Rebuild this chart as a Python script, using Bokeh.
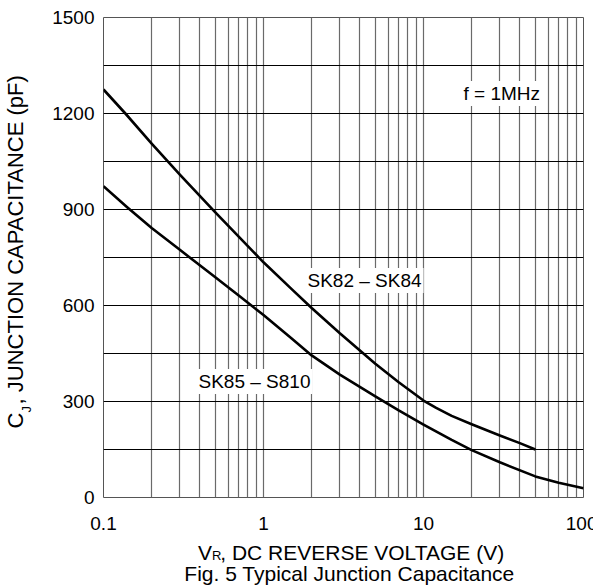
from bokeh.plotting import figure
from bokeh.models import Range1d, FixedTicker, Label, LinearAxis, LogAxis
from bokeh.embed import file_html
from bokeh.resources import INLINE

# ---- data ----
upper_v = [0.1, 0.137, 0.2, 0.3, 0.5, 0.7, 1, 1.5, 2, 3, 5, 7, 10, 12, 15, 20, 30, 40, 50]
upper_c = [1275, 1200, 1106, 1009, 891, 815, 735, 651, 592, 513, 418, 360, 303, 280, 255, 229, 194, 170, 150]

lower_v = [0.1, 0.14, 0.2, 0.3, 0.5, 0.7, 1, 1.5, 2, 3, 5, 7, 10, 15, 20, 30, 50, 70, 100]
lower_c = [973, 908, 842, 774, 688, 631, 570, 497, 444, 384, 316, 272, 228, 180, 148, 110, 66, 46, 29]

x_major = [0.1, 1, 10, 100]
x_labels = ["0.1", "1", "10", "100"]
y_major = [0, 300, 600, 900, 1200, 1500]
y_grid = [0, 150, 300, 450, 600, 750, 900, 1050, 1200, 1350, 1500]
x_grid = [m * d for d in (0.1, 1, 10) for m in range(1, 10)] + [100]

# axis titles / caption pieces (main text, subscript, rest)
x_title = ["V", "R", ", DC REVERSE VOLTAGE (V)"]
y_title = ["C", "J", ", JUNCTION CAPACITANCE (pF)"]
caption = "Fig. 5 Typical Junction Capacitance"

FONT = "Liberation Sans"

p = figure(frame_width=480, frame_height=480, x_axis_type="log",
           x_range=Range1d(0.1, 100), y_range=Range1d(0, 1500),
           output_backend="svg", toolbar_location=None,
           min_border_left=99, min_border_right=14,
           min_border_top=17, min_border_bottom=91)

p.background_fill_color = "white"
p.border_fill_color = "white"
p.outline_line_color = "#555555"
p.outline_line_width = 1

# grids
p.xgrid.ticker = FixedTicker(ticks=x_grid)
p.xgrid.grid_line_color = "#6a6a6a"
p.xgrid.grid_line_width = 1.2
p.ygrid.ticker = FixedTicker(ticks=y_grid)
p.ygrid.grid_line_color = "black"
p.ygrid.grid_line_width = 1.2


def style_axis(ax, size):
    ax.axis_line_color = None
    ax.major_tick_line_color = None
    ax.minor_tick_line_color = None
    ax.major_tick_out = 0
    ax.major_tick_in = 0
    ax.minor_tick_out = 0
    ax.minor_tick_in = 0
    ax.major_label_text_font = FONT
    ax.major_label_text_font_size = size
    ax.major_label_text_color = "black"


# main axes
p.xaxis.ticker = FixedTicker(ticks=x_major)
p.xaxis.major_label_overrides = {v: s for v, s in zip(x_major, x_labels)}
p.yaxis.ticker = FixedTicker(ticks=y_major)
style_axis(p.xaxis[0], "19px")
style_axis(p.yaxis[0], "19px")
p.xaxis.major_label_standoff = 19
p.yaxis.major_label_standoff = 9

# curves
p.line(upper_v, upper_c, line_color="black", line_width=2.6, line_join="round")
p.line(lower_v, lower_c, line_color="black", line_width=2.6, line_join="round")


def lab(text, x, y):
    L = Label(text=text, x=x, y=y, x_units="screen", y_units="screen",
              text_font=FONT, text_font_size="19px", text_color="black",
              text_baseline="middle", background_fill_color="white", padding=2)
    p.add_layout(L)


lab("SK82 \u2013 SK84", 202, 217)
lab("SK85 \u2013 S810", 93, 116)
lab("f = 1MHz", 358, 404)

# ---- axis titles & caption drawn as tick labels of helper axes ----
p.extra_y_ranges = {"py": Range1d(0, 480)}


def text_axis(side, pos_text, size, standoff, orient="horizontal"):
    if side == "below":
        ax = LogAxis()
    else:
        ax = LinearAxis(y_range_name="py")
    ax.ticker = FixedTicker(ticks=[t for t, _ in pos_text], minor_ticks=[])
    ax.major_label_overrides = {t: s for t, s in pos_text}
    style_axis(ax, size)
    ax.major_label_standoff = standoff
    ax.major_label_orientation = orient
    p.add_layout(ax, side)
    return ax


# bottom (positions along the log voltage axis): title line, caption, subscript
text_axis("below", [(0.4309, x_title[0]), (4.139, x_title[2])], "21px", 8)
text_axis("below", [(3.447, caption)], "21px", -5)
text_axis("below", [(0.510, x_title[1])], "13px", -40)

# left: subscript first (closest), then main title pieces
text_axis("left", [(88.15, y_title[1])], "13px", 15, "vertical")
text_axis("left", [(76.95, y_title[0]), (257.7, y_title[2])], "22px", -12, "vertical")

open("out.html", "w").write(file_html(p, INLINE))
